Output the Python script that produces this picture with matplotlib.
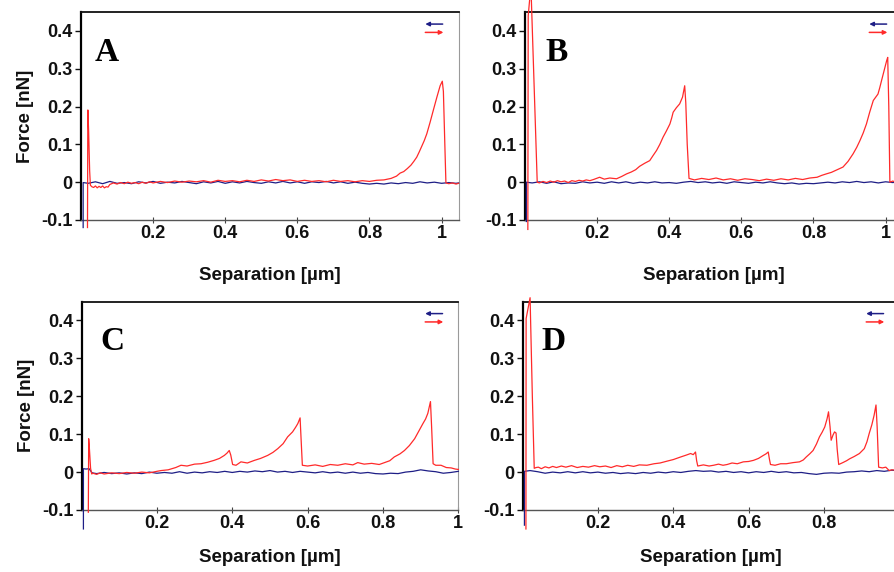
import numpy as np
import matplotlib
matplotlib.use("Agg")
import matplotlib.pyplot as plt

plt.rcParams['font.family'] = ['Liberation Sans', 'DejaVu Sans']

# ---- force curves: (separation [um], force [nN]) ----
# approach traces (blue)
approach_a = [(0.006, -0.12), (0.006, -0.001), (0.02, -0.003), (0.04, 0.001), (0.06, -0.004), (0.08, 0.002),
              (0.10, -0.003), (0.12, -0.001), (0.14, -0.004), (0.16, 0.001), (0.18, -0.002), (0.20, 0.002),
              (0.22, -0.003), (0.24, 0.000), (0.26, -0.002), (0.28, 0.002), (0.30, -0.001), (0.32, -0.004),
              (0.34, 0.001), (0.36, -0.002), (0.38, 0.002), (0.40, -0.003), (0.42, 0.001), (0.44, -0.002),
              (0.46, 0.002), (0.48, -0.001), (0.50, -0.003), (0.52, 0.001), (0.54, -0.002), (0.56, 0.002),
              (0.58, -0.002), (0.60, 0.001), (0.62, -0.003), (0.64, 0.001), (0.66, -0.001), (0.68, 0.002),
              (0.70, -0.002), (0.72, 0.001), (0.74, -0.003), (0.76, 0.000), (0.78, -0.003), (0.80, -0.005),
              (0.82, -0.003), (0.84, -0.005), (0.86, -0.002), (0.88, -0.004), (0.90, -0.001), (0.92, -0.003),
              (0.94, 0.001), (0.96, -0.002), (0.98, 0.000), (1.00, -0.003), (1.02, -0.001), (1.04, -0.003),
              (1.047, -0.002)]
approach_b = [(0.004, -0.104), (0.004, 0.0), (0.02, -0.002), (0.04, 0.001), (0.06, -0.003), (0.08, 0.001),
              (0.10, -0.004), (0.12, -0.002), (0.14, -0.003), (0.16, 0.001), (0.18, -0.002), (0.20, 0.000),
              (0.22, -0.003), (0.24, 0.001), (0.26, -0.002), (0.28, 0.001), (0.30, -0.003), (0.32, 0.000),
              (0.34, -0.002), (0.36, 0.001), (0.38, -0.002), (0.40, -0.001), (0.42, -0.003), (0.44, 0.000),
              (0.46, 0.002), (0.48, -0.001), (0.50, 0.001), (0.52, -0.002), (0.54, 0.000), (0.56, -0.003),
              (0.58, 0.001), (0.60, -0.001), (0.62, -0.003), (0.64, 0.000), (0.66, -0.002), (0.68, 0.001),
              (0.70, -0.002), (0.72, -0.004), (0.74, -0.002), (0.76, -0.005), (0.78, -0.003), (0.80, -0.004),
              (0.82, -0.002), (0.84, 0.000), (0.86, -0.002), (0.88, 0.001), (0.90, -0.001), (0.92, 0.002),
              (0.94, -0.001), (0.96, 0.001), (0.98, -0.002), (1.00, 0.001), (1.02, -0.001), (1.04, 0.001)]
approach_c = [(0.005, -0.15), (0.005, 0.009), (0.012, 0.008), (0.02, 0.009), (0.028, -0.002), (0.04, -0.004),
              (0.06, -0.001), (0.08, -0.004), (0.10, -0.002), (0.12, -0.005), (0.14, -0.002), (0.16, -0.004),
              (0.18, 0.000), (0.20, -0.003), (0.22, -0.001), (0.24, -0.003), (0.26, 0.001), (0.28, -0.003),
              (0.30, 0.000), (0.32, -0.002), (0.34, 0.001), (0.36, -0.001), (0.38, 0.002), (0.40, -0.001),
              (0.42, 0.002), (0.44, 0.000), (0.46, 0.003), (0.48, 0.001), (0.50, 0.004), (0.52, 0.000),
              (0.54, 0.002), (0.56, -0.001), (0.58, 0.002), (0.60, 0.000), (0.62, -0.002), (0.64, 0.001),
              (0.66, -0.002), (0.68, 0.000), (0.70, -0.003), (0.72, 0.000), (0.74, -0.003), (0.76, -0.001),
              (0.78, -0.004), (0.80, -0.005), (0.82, -0.003), (0.84, -0.004), (0.86, 0.000), (0.88, 0.002),
              (0.90, 0.006), (0.92, 0.003), (0.94, 0.001), (0.96, -0.003), (0.98, -0.001), (1.00, 0.002)]
approach_d = [(0.005, -0.14), (0.005, 0.002), (0.02, 0.004), (0.04, 0.001), (0.06, -0.003), (0.08, 0.000),
              (0.10, -0.002), (0.12, 0.001), (0.14, -0.002), (0.16, 0.001), (0.18, -0.002), (0.20, 0.000),
              (0.22, -0.003), (0.24, -0.001), (0.26, -0.004), (0.28, -0.002), (0.30, -0.004), (0.32, -0.001),
              (0.34, -0.003), (0.36, 0.000), (0.38, -0.002), (0.40, 0.001), (0.42, -0.001), (0.44, 0.002),
              (0.46, 0.004), (0.48, 0.002), (0.50, 0.003), (0.52, 0.000), (0.54, 0.002), (0.56, -0.001),
              (0.58, 0.001), (0.60, -0.002), (0.62, 0.001), (0.64, -0.001), (0.66, 0.002), (0.68, -0.001),
              (0.70, 0.001), (0.72, -0.002), (0.74, -0.001), (0.76, -0.004), (0.78, -0.006), (0.80, -0.003),
              (0.82, -0.002), (0.84, -0.003), (0.86, 0.000), (0.88, 0.001), (0.90, 0.003), (0.92, 0.001),
              (0.94, 0.004), (0.96, 0.002), (0.98, 0.005), (1.00, 0.003)]

# retract traces (red)
retract_a = [(0.018, -0.12), (0.019, 0.191), (0.021, 0.14), (0.024, 0.03), (0.026, -0.008), (0.03, -0.012),
             (0.035, -0.014), (0.04, -0.01), (0.045, -0.015), (0.05, -0.011), (0.055, -0.014), (0.06, -0.01),
             (0.065, -0.015), (0.07, -0.012), (0.075, -0.013), (0.08, -0.006), (0.09, -0.002), (0.10, -0.005),
             (0.11, -0.001), (0.12, -0.004), (0.13, 0.0), (0.14, -0.003), (0.15, -0.001), (0.16, -0.004),
             (0.17, 0.000), (0.18, -0.003), (0.19, 0.001), (0.20, -0.002), (0.22, 0.002), (0.24, -0.001),
             (0.26, 0.003), (0.28, 0.0), (0.30, 0.003), (0.32, 0.001), (0.34, 0.004), (0.36, 0.0),
             (0.38, 0.005), (0.40, 0.002), (0.42, 0.004), (0.44, 0.001), (0.46, 0.005), (0.48, 0.002),
             (0.50, 0.006), (0.52, 0.003), (0.54, 0.007), (0.56, 0.004), (0.58, 0.006), (0.60, 0.002),
             (0.62, 0.005), (0.64, 0.002), (0.66, 0.004), (0.68, 0.001), (0.70, 0.005), (0.72, 0.002),
             (0.74, 0.004), (0.76, 0.001), (0.78, 0.004), (0.80, 0.002), (0.82, 0.005), (0.84, 0.006),
             (0.86, 0.01), (0.875, 0.016), (0.885, 0.024), (0.895, 0.028), (0.905, 0.036), (0.915, 0.045),
             (0.923, 0.055), (0.931, 0.066), (0.938, 0.08), (0.945, 0.095), (0.952, 0.11), (0.959, 0.128),
             (0.968, 0.158), (0.977, 0.19), (0.987, 0.225), (0.996, 0.255), (1.002, 0.267), (1.005, 0.24),
             (1.009, 0.1), (1.012, -0.002), (1.02, -0.004), (1.03, -0.002), (1.04, -0.005), (1.047, -0.003)]
retract_b = [(0.008, -0.125), (0.009, 0.44), (0.0165, 0.52), (0.034, 0.0), (0.04, -0.002), (0.05, 0.002),
             (0.06, -0.001), (0.07, 0.003), (0.08, 0.000), (0.09, 0.004), (0.10, 0.001), (0.11, 0.003),
             (0.12, -0.001), (0.13, 0.004), (0.14, 0.002), (0.15, 0.005), (0.16, 0.003), (0.17, 0.006),
             (0.18, 0.004), (0.19, 0.007), (0.207, 0.013), (0.22, 0.008), (0.235, 0.011), (0.254, 0.009),
             (0.268, 0.015), (0.282, 0.022), (0.295, 0.027), (0.307, 0.033), (0.318, 0.042), (0.332, 0.05),
             (0.346, 0.057), (0.355, 0.07), (0.365, 0.084), (0.374, 0.1), (0.383, 0.119), (0.392, 0.135),
             (0.402, 0.154), (0.407, 0.17), (0.411, 0.185), (0.42, 0.197), (0.429, 0.207), (0.437, 0.225),
             (0.443, 0.255), (0.446, 0.21), (0.45, 0.1), (0.455, 0.01), (0.47, 0.006), (0.49, 0.01),
             (0.51, 0.007), (0.53, 0.011), (0.55, 0.006), (0.57, 0.009), (0.59, 0.005), (0.61, 0.009),
             (0.63, 0.007), (0.65, 0.004), (0.67, 0.008), (0.69, 0.005), (0.71, 0.009), (0.73, 0.006),
             (0.75, 0.01), (0.77, 0.007), (0.79, 0.011), (0.81, 0.013), (0.823, 0.018), (0.836, 0.022),
             (0.85, 0.026), (0.866, 0.033), (0.882, 0.04), (0.896, 0.055), (0.91, 0.075), (0.92, 0.092),
             (0.929, 0.11), (0.938, 0.13), (0.947, 0.154), (0.956, 0.185), (0.966, 0.216), (0.979, 0.233),
             (0.984, 0.25), (0.989, 0.269), (0.996, 0.295), (1.003, 0.321), (1.006, 0.33), (1.009, 0.2),
             (1.012, 0.0), (1.02, 0.003), (1.03, -0.001), (1.04, 0.002), (1.047, 0.0)]
retract_c = [(0.018, -0.106), (0.019, 0.088), (0.021, 0.06), (0.024, 0.01), (0.027, -0.005), (0.03, -0.003),
             (0.04, -0.006), (0.05, -0.002), (0.06, -0.005), (0.08, -0.002), (0.10, -0.004), (0.12, -0.001),
             (0.14, -0.003), (0.16, 0.000), (0.18, -0.002), (0.20, 0.002), (0.211, 0.004), (0.23, 0.006),
             (0.25, 0.012), (0.264, 0.018), (0.28, 0.016), (0.30, 0.021), (0.317, 0.022), (0.335, 0.026),
             (0.352, 0.031), (0.366, 0.036), (0.379, 0.044), (0.386, 0.05), (0.392, 0.057), (0.396, 0.045),
             (0.401, 0.02), (0.41, 0.018), (0.423, 0.027), (0.44, 0.024), (0.459, 0.031), (0.475, 0.036),
             (0.494, 0.044), (0.508, 0.052), (0.521, 0.062), (0.535, 0.075), (0.547, 0.093), (0.56, 0.106),
             (0.568, 0.118), (0.574, 0.128), (0.58, 0.143), (0.583, 0.08), (0.586, 0.018), (0.60, 0.016),
             (0.62, 0.019), (0.64, 0.015), (0.66, 0.02), (0.68, 0.018), (0.70, 0.022), (0.72, 0.019),
             (0.733, 0.025), (0.75, 0.021), (0.77, 0.023), (0.79, 0.02), (0.804, 0.025), (0.818, 0.03),
             (0.83, 0.04), (0.845, 0.048), (0.857, 0.057), (0.87, 0.07), (0.884, 0.088), (0.895, 0.108),
             (0.906, 0.128), (0.913, 0.14), (0.919, 0.155), (0.926, 0.186), (0.929, 0.12), (0.933, 0.022),
             (0.94, 0.018), (0.954, 0.018), (0.968, 0.012), (0.981, 0.011), (0.992, 0.008), (1.0, 0.007)]
retract_d = [(0.009, -0.15), (0.0095, 0.405), (0.02, 0.46), (0.026, 0.2), (0.031, 0.01), (0.036, 0.012),
             (0.042, 0.013), (0.05, 0.009), (0.06, 0.014), (0.07, 0.011), (0.08, 0.015), (0.09, 0.012),
             (0.103, 0.016), (0.115, 0.013), (0.13, 0.017), (0.145, 0.012), (0.16, 0.015), (0.175, 0.013),
             (0.191, 0.017), (0.205, 0.014), (0.22, 0.016), (0.235, 0.012), (0.25, 0.017), (0.265, 0.014),
             (0.279, 0.018), (0.295, 0.015), (0.31, 0.019), (0.33, 0.018), (0.349, 0.022), (0.365, 0.024),
             (0.384, 0.029), (0.40, 0.033), (0.42, 0.04), (0.435, 0.045), (0.446, 0.049), (0.453, 0.046),
             (0.459, 0.053), (0.462, 0.03), (0.465, 0.016), (0.48, 0.019), (0.495, 0.016), (0.507, 0.018),
             (0.52, 0.021), (0.532, 0.018), (0.543, 0.02), (0.556, 0.024), (0.57, 0.022), (0.586, 0.027),
             (0.60, 0.028), (0.613, 0.031), (0.626, 0.036), (0.639, 0.044), (0.646, 0.048), (0.652, 0.053),
             (0.655, 0.035), (0.658, 0.02), (0.67, 0.018), (0.685, 0.022), (0.70, 0.022), (0.718, 0.025),
             (0.735, 0.027), (0.745, 0.032), (0.753, 0.04), (0.762, 0.048), (0.771, 0.057), (0.78, 0.074),
             (0.788, 0.093), (0.795, 0.105), (0.802, 0.119), (0.808, 0.14), (0.812, 0.159), (0.816, 0.12),
             (0.819, 0.084), (0.824, 0.098), (0.828, 0.106), (0.832, 0.103), (0.835, 0.06), (0.839, 0.02),
             (0.85, 0.025), (0.86, 0.03), (0.868, 0.035), (0.88, 0.041), (0.894, 0.049), (0.907, 0.062),
             (0.914, 0.08), (0.92, 0.102), (0.927, 0.125), (0.933, 0.15), (0.938, 0.177), (0.941, 0.12),
             (0.945, 0.013), (0.955, 0.011), (0.964, 0.013), (0.973, 0.004), (0.98, 0.006), (0.99, 0.005),
             (1.0, 0.006)]

panel_letters = ["A", "B", "C", "D"]
x_ticks = [0.2, 0.4, 0.6, 0.8, 1.0]
x_tick_labels = ["0.2", "0.4", "0.6", "0.8", "1"]
y_ticks = [-0.1, 0.0, 0.1, 0.2, 0.3, 0.4]
y_tick_labels = ["-0.1", "0", "0.1", "0.2", "0.3", "0.4"]

BLUE = "#1e1e86"
RED = "#ff2a2a"

fig = plt.figure(figsize=(8.94, 5.72), dpi=100)

panels = [
    # rect, xmax, approach, retract, letter offset, xlabel pad, show ylabel, n x ticks
    ([0.0906, 0.6154, 0.4223, 0.3636], 1.047, approach_a, retract_a, 0.037, 18, True, 5),
    ([0.5872, 0.6154, 0.4223, 0.3636], 1.047, approach_b, retract_b, 0.053, 18, False, 5),
    ([0.0912, 0.1084, 0.4215, 0.3645], 1.0, approach_c, retract_c, 0.049, 12, True, 5),
    ([0.5845, 0.1084, 0.4215, 0.3645], 1.0, approach_d, retract_d, 0.050, 12, False, 4),
]

for letter, (rect, xmax, app, ret, lx, xpad, ylab, nxt) in zip(panel_letters, panels):
    ax = fig.add_axes(rect)
    ax.set_xlim(0, xmax)
    ax.set_ylim(-0.1, 0.45)

    ax_x, ax_y = np.array(app).T
    rx, ry = np.array(ret).T
    ax.plot(ax_x, ax_y, color=BLUE, lw=0.9, clip_on=False, zorder=3)
    ax.plot(rx, ry, color=RED, lw=0.9, clip_on=False, zorder=4)

    ax.set_xticks(x_ticks[:nxt])
    ax.set_xticklabels(x_tick_labels[:nxt])
    ax.set_yticks(y_ticks)
    ax.set_yticklabels(y_tick_labels)
    ax.tick_params(axis='y', direction='out', length=4, width=1, pad=2,
                   labelsize=13, colors='#111111')
    ax.tick_params(axis='x', direction='inout', length=5, width=0.8, pad=1,
                   labelsize=13, colors='#111111')
    ax.tick_params(axis='x', color='#444444')
    for lab in ax.get_xticklabels() + ax.get_yticklabels():
        lab.set_fontweight('bold')

    ax.spines['left'].set_color('black')
    ax.spines['left'].set_linewidth(1.6)
    ax.spines['top'].set_color('#111111')
    ax.spines['top'].set_linewidth(1.3)
    ax.spines['bottom'].set_color('#555555')
    ax.spines['bottom'].set_linewidth(1.0)
    ax.spines['right'].set_color('#9a9a9a')
    ax.spines['right'].set_linewidth(0.8)

    ax.set_xlabel("Separation [µm]", fontsize=13.5, fontweight='bold',
                  color='#111111', labelpad=xpad)
    if ylab:
        ax.set_ylabel("Force [nN]", fontsize=13.5, fontweight='bold',
                      color='#111111', labelpad=5)

    ax.text(lx, 0.765, letter, transform=ax.transAxes, fontsize=24,
            fontweight='bold', family='Liberation Serif', va='baseline',
            ha='left', color='black')

    # direction key: approach (left), retract (right)
    ax.annotate('', xy=(0.912, 0.942), xytext=(0.958, 0.942), xycoords='axes fraction',
                arrowprops=dict(arrowstyle='-|>', color=BLUE, lw=1.1,
                                mutation_scale=6, shrinkA=0, shrinkB=0))
    ax.annotate('', xy=(0.960, 0.902), xytext=(0.912, 0.902), xycoords='axes fraction',
                arrowprops=dict(arrowstyle='-|>', color=RED, lw=1.1,
                                mutation_scale=6, shrinkA=0, shrinkB=0))

fig.savefig("out.png", dpi=100)
